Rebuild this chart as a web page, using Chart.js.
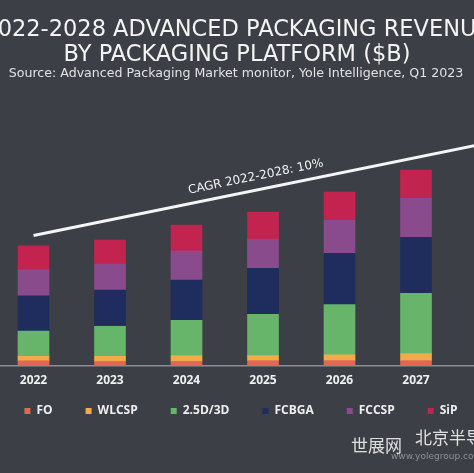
<!DOCTYPE html>
<html>
<head>
<meta charset="utf-8">
<script src="https://cdn.jsdelivr.net/npm/chart.js@4"></script>
<style>
  html, body { margin: 0; padding: 0; background: #3c3f45; overflow: hidden; }
  canvas { display: block; }
</style>
</head>
<body>
<canvas id="chart" width="474" height="473"></canvas>
<script>
// years on the axis (2028 only carries the end of the CAGR line)
const years = [2022, 2023, 2024, 2025, 2026, 2027, 2028];

// revenue by platform, $B
const fo     = [1.9, 1.7, 1.7, 2.0, 2.0, 2.0];
const wlcsp  = [1.7, 1.9, 2.2, 1.9, 2.2, 2.6];
const d25    = [9.3, 11.1, 13.0, 15.2, 18.5, 22.2];
const fcbga  = [13.0, 13.3, 14.8, 17.0, 18.9, 20.7];
const fccsp  = [9.6, 9.6, 10.7, 10.7, 12.2, 14.4];
const sip    = [8.9, 8.9, 9.6, 10.0, 10.4, 10.4];

// CAGR trend line, start and end
const cagrLine = [48.2, null, null, null, null, null, 82.7];

const titleLines = ["2022-2028 ADVANCED PACKAGING REVENUE", "BY PACKAGING PLATFORM ($B)"];
const sourceText = "Source: Advanced Packaging Market monitor, Yole Intelligence, Q1 2023";
const cagrText = "CAGR 2022-2028: 10%";

const headerPlugin = {
    id: "header",
    afterDraw(chart){
        const ctx = chart.ctx;
        ctx.save();
        ctx.textAlign = "center";
        ctx.textBaseline = "alphabetic";
        ctx.fillStyle = "#f3f3f3";
        ctx.font = "22.5px 'DejaVu Sans'";
        ctx.fillText(titleLines[0], 237, 36);
        ctx.fillText(titleLines[1], 237, 61);
        ctx.fillStyle = "#e2e2e2";
        ctx.font = "12.6px 'DejaVu Sans'";
        ctx.fillText(sourceText, 236, 77);

        // watermark bits in the bottom right
        ctx.textAlign = "left";
        ctx.fillStyle = "rgba(240,240,240,0.9)";
        ctx.font = "17px 'Noto Sans CJK SC'";
        ctx.fillText("世展网", 351, 452);
        ctx.fillText("北京半导体", 415, 444);
        ctx.fillStyle = "#8e9196";
        ctx.font = "9px 'DejaVu Sans'";
        ctx.fillText("www.yolegroup.com", 391, 459);
        ctx.restore();
    }
};

const cagrPlugin = {
    id: "cagrLabel",
    afterDatasetsDraw(chart){
        const pts = chart.getDatasetMeta(6).data;
        const a = pts[0], b = pts[6];
        const ang = Math.atan2(b.y - a.y, b.x - a.x);
        const t = 0.49;
        const mx = a.x + (b.x - a.x) * t;
        const my = a.y + (b.y - a.y) * t;
        const ctx = chart.ctx;
        ctx.save();
        ctx.translate(mx, my);
        ctx.rotate(ang);
        ctx.fillStyle = "#f3f3f3";
        ctx.font = "12px 'DejaVu Sans'";
        ctx.textAlign = "center";
        ctx.textBaseline = "middle";
        ctx.fillText(cagrText, 0, -13);
        ctx.restore();
    }
};

// the legend sits closer to the year labels than chart.js would put it
const legendNudge = {
    id: "legendNudge",
    afterLayout(chart){
        chart.legend.top -= 22.5;
        chart.legend.bottom -= 22.5;
    }
};

function barSet(label, data, color){
    return { type: "bar", label, data, backgroundColor: color, borderWidth: 0, barThickness: 31, stack: "rev" };
}

const ctx = document.getElementById("chart").getContext("2d");
new Chart(ctx, {
    data: {
        labels: years,
        datasets: [
            barSet("FO", fo, "#e0675a"),
            barSet("WLCSP", wlcsp, "#f2ab4a"),
            barSet("2.5D/3D", d25, "#66b56b"),
            barSet("FCBGA", fcbga, "#1f2c5e"),
            barSet("FCCSP", fccsp, "#8a4b8d"),
            barSet("SiP", sip, "#c3244f"),
            {
                type: "line",
                label: "CAGR",
                data: cagrLine,
                borderColor: "#f5f5f5",
                borderWidth: 3,
                pointRadius: 0,
                spanGaps: true,
                stack: "cagr"
            }
        ]
    },
    options: {
        responsive: false,
        animation: false,
        // negative sides give the legend the room of the uncropped original
        layout: { padding: { top: 95, bottom: 23.5, left: -16, right: -24 } },
        plugins: {
            title: { display: false },
            tooltip: { enabled: false },
            legend: {
                position: "bottom",
                labels: {
                    color: "#eeeeee",
                    font: { family: "'Open Sans'", weight: "bold", size: 12 },
                    boxWidth: 6,
                    boxHeight: 6,
                    padding: 33,
                    filter: item => item.datasetIndex < 6
                }
            }
        },
        scales: {
            x: {
                type: "linear",
                offset: false,
                min: 2021.562,
                max: 2027.758,
                stacked: true,
                grid: { display: false, drawTicks: false },
                border: { display: true, color: "#8b8e93", width: 1.5 },
                ticks: {
                    stepSize: 1,
                    includeBounds: false,
                    autoSkip: false,
                    maxRotation: 0,
                    padding: 7,
                    color: "#f0f0f0",
                    font: { family: "'Open Sans'", weight: "bold", size: 12 },
                    callback: v => String(v)
                }
            },
            y: {
                display: false,
                stacked: true,
                min: 0,
                max: 100
            }
        }
    },
    plugins: [headerPlugin, cagrPlugin, legendNudge]
});
</script>
</body>
</html>
